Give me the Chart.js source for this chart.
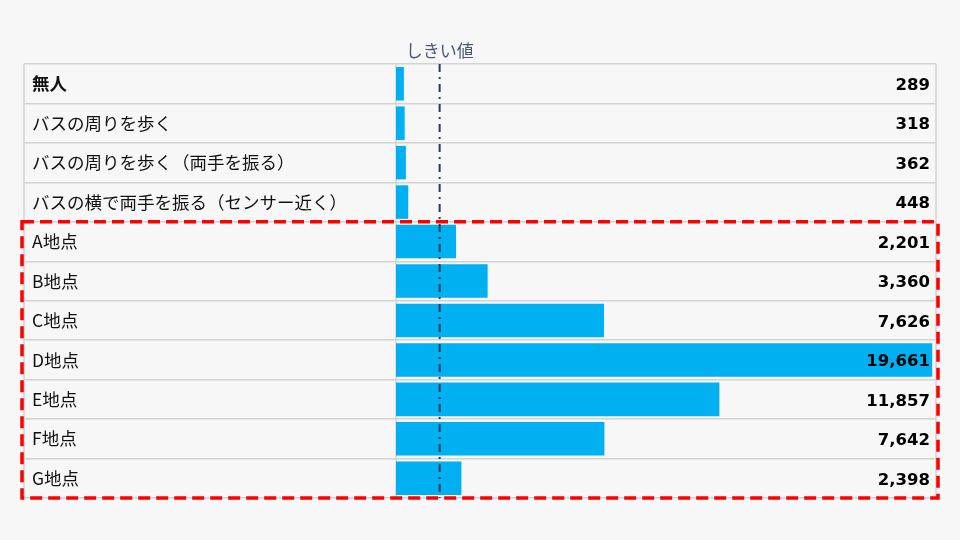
<!DOCTYPE html>
<html>
<head>
<meta charset="utf-8">
<script src="https://cdn.jsdelivr.net/npm/chart.js@4/dist/chart.umd.min.js"></script>
<style>
  html, body { margin: 0; padding: 0; background: #f7f7f7; }
  #wrap { width: 960px; height: 540px; }
</style>
</head>
<body>
<div id="wrap"><canvas id="chart"></canvas></div>
<script>
// --- data ---
const categories = [
    '無人',
    'バスの周りを歩く',
    'バスの周りを歩く（両手を振る）',
    'バスの横で両手を振る（センサー近く）',
    'A地点', 'B地点', 'C地点', 'D地点', 'E地点', 'F地点', 'G地点'
];
const counts = [289, 318, 362, 448, 2201, 3360, 7626, 19661, 11857, 7642, 2398];
const threshold = 1600;
const thresholdLabel = 'しきい値';
const highlightFrom = 4; // first row inside the red box
const xMax = 19800;

const JP_FONT = '"Noto Sans CJK JP", "Noto Sans", sans-serif';
const NUM_FONT = '"DejaVu Sans", sans-serif';
const LABEL_INSET = 8;

// table frame, value column, threshold line, red box
const tablePlugin = {
    id: 'tablePlugin',
    beforeDatasetsDraw(chart) {
        const { ctx, chartArea } = chart;
        const yScale = chart.scales.y;
        const left = chartArea.left - yScale.width - LABEL_INSET;
        ctx.save();
        ctx.strokeStyle = '#d3d3d3';
        ctx.lineWidth = 1.5;
        ctx.beginPath();
        ctx.moveTo(left, chartArea.top);
        ctx.lineTo(left, chartArea.bottom);
        ctx.moveTo(chartArea.right, chartArea.top);
        ctx.lineTo(chartArea.right, chartArea.bottom);
        ctx.moveTo(chartArea.left, chartArea.top);
        ctx.lineTo(chartArea.left, chartArea.bottom);
        ctx.stroke();
        ctx.restore();
    },
    afterDatasetsDraw(chart) {
        const { ctx, chartArea } = chart;
        const xScale = chart.scales.x;
        const yScale = chart.scales.y;

        // values, right aligned in each row
        ctx.save();
        ctx.fillStyle = '#000';
        ctx.font = 'bold 16.5px ' + NUM_FONT;
        ctx.textAlign = 'right';
        ctx.textBaseline = 'middle';
        counts.forEach((v, i) => {
            ctx.fillText(v.toLocaleString('en-US'), chartArea.right - 6, yScale.getPixelForValue(i) + 2);
        });
        ctx.restore();

        // threshold (dash-dot)
        const tx = xScale.getPixelForValue(threshold);
        ctx.save();
        ctx.strokeStyle = '#2b3a58';
        ctx.lineWidth = 2;
        ctx.setLineDash([8, 5, 2, 5]);
        ctx.beginPath();
        ctx.moveTo(tx, chartArea.top);
        ctx.lineTo(tx, chartArea.bottom);
        ctx.stroke();
        ctx.setLineDash([]);
        ctx.fillStyle = '#4a5878';
        ctx.font = '17px ' + JP_FONT;
        ctx.textAlign = 'center';
        ctx.textBaseline = 'bottom';
        ctx.fillText(thresholdLabel, tx, chartArea.top - 5);
        ctx.restore();

        // red dashed highlight box
        const half = (yScale.getPixelForValue(1) - yScale.getPixelForValue(0)) / 2;
        const boxTop = yScale.getPixelForValue(highlightFrom) - half;
        const boxBottom = yScale.getPixelForValue(counts.length - 1) + half;
        const boxLeft = chartArea.left - yScale.width - LABEL_INSET - 2;
        const boxRight = chartArea.right + 2;
        ctx.save();
        ctx.strokeStyle = '#ff0000';
        ctx.lineWidth = 3.5;
        ctx.setLineDash([12, 6]);
        ctx.strokeRect(boxLeft, boxTop, boxRight - boxLeft, boxBottom - boxTop);
        ctx.restore();
    }
};

new Chart(document.getElementById('chart'), {
    type: 'bar',
    data: {
        labels: categories,
        datasets: [{
            data: counts,
            backgroundColor: '#00b0f0',
            borderWidth: 0,
            barPercentage: 0.85,
            categoryPercentage: 1.0
        }]
    },
    options: {
        indexAxis: 'y',
        responsive: true,
        maintainAspectRatio: false,
        animation: false,
        layout: { padding: { top: 64, bottom: 42, left: 32, right: 24 } },
        plugins: {
            legend: { display: false },
            tooltip: { enabled: false }
        },
        scales: {
            x: {
                display: false,
                min: 0,
                max: xMax
            },
            y: {
                afterFit(scale) { scale.width = 364; },
                border: { display: false },
                grid: {
                    offset: true,
                    color: '#d3d3d3',
                    lineWidth: 1.5,
                    tickLength: 372
                },
                ticks: {
                    crossAlign: 'far',
                    color: '#111',
                    font: (c) => ({
                        family: JP_FONT,
                        size: 17.5,
                        weight: c.index === 0 ? 'bold' : 'normal'
                    })
                }
            }
        }
    },
    plugins: [tablePlugin]
});
</script>
</body>
</html>
